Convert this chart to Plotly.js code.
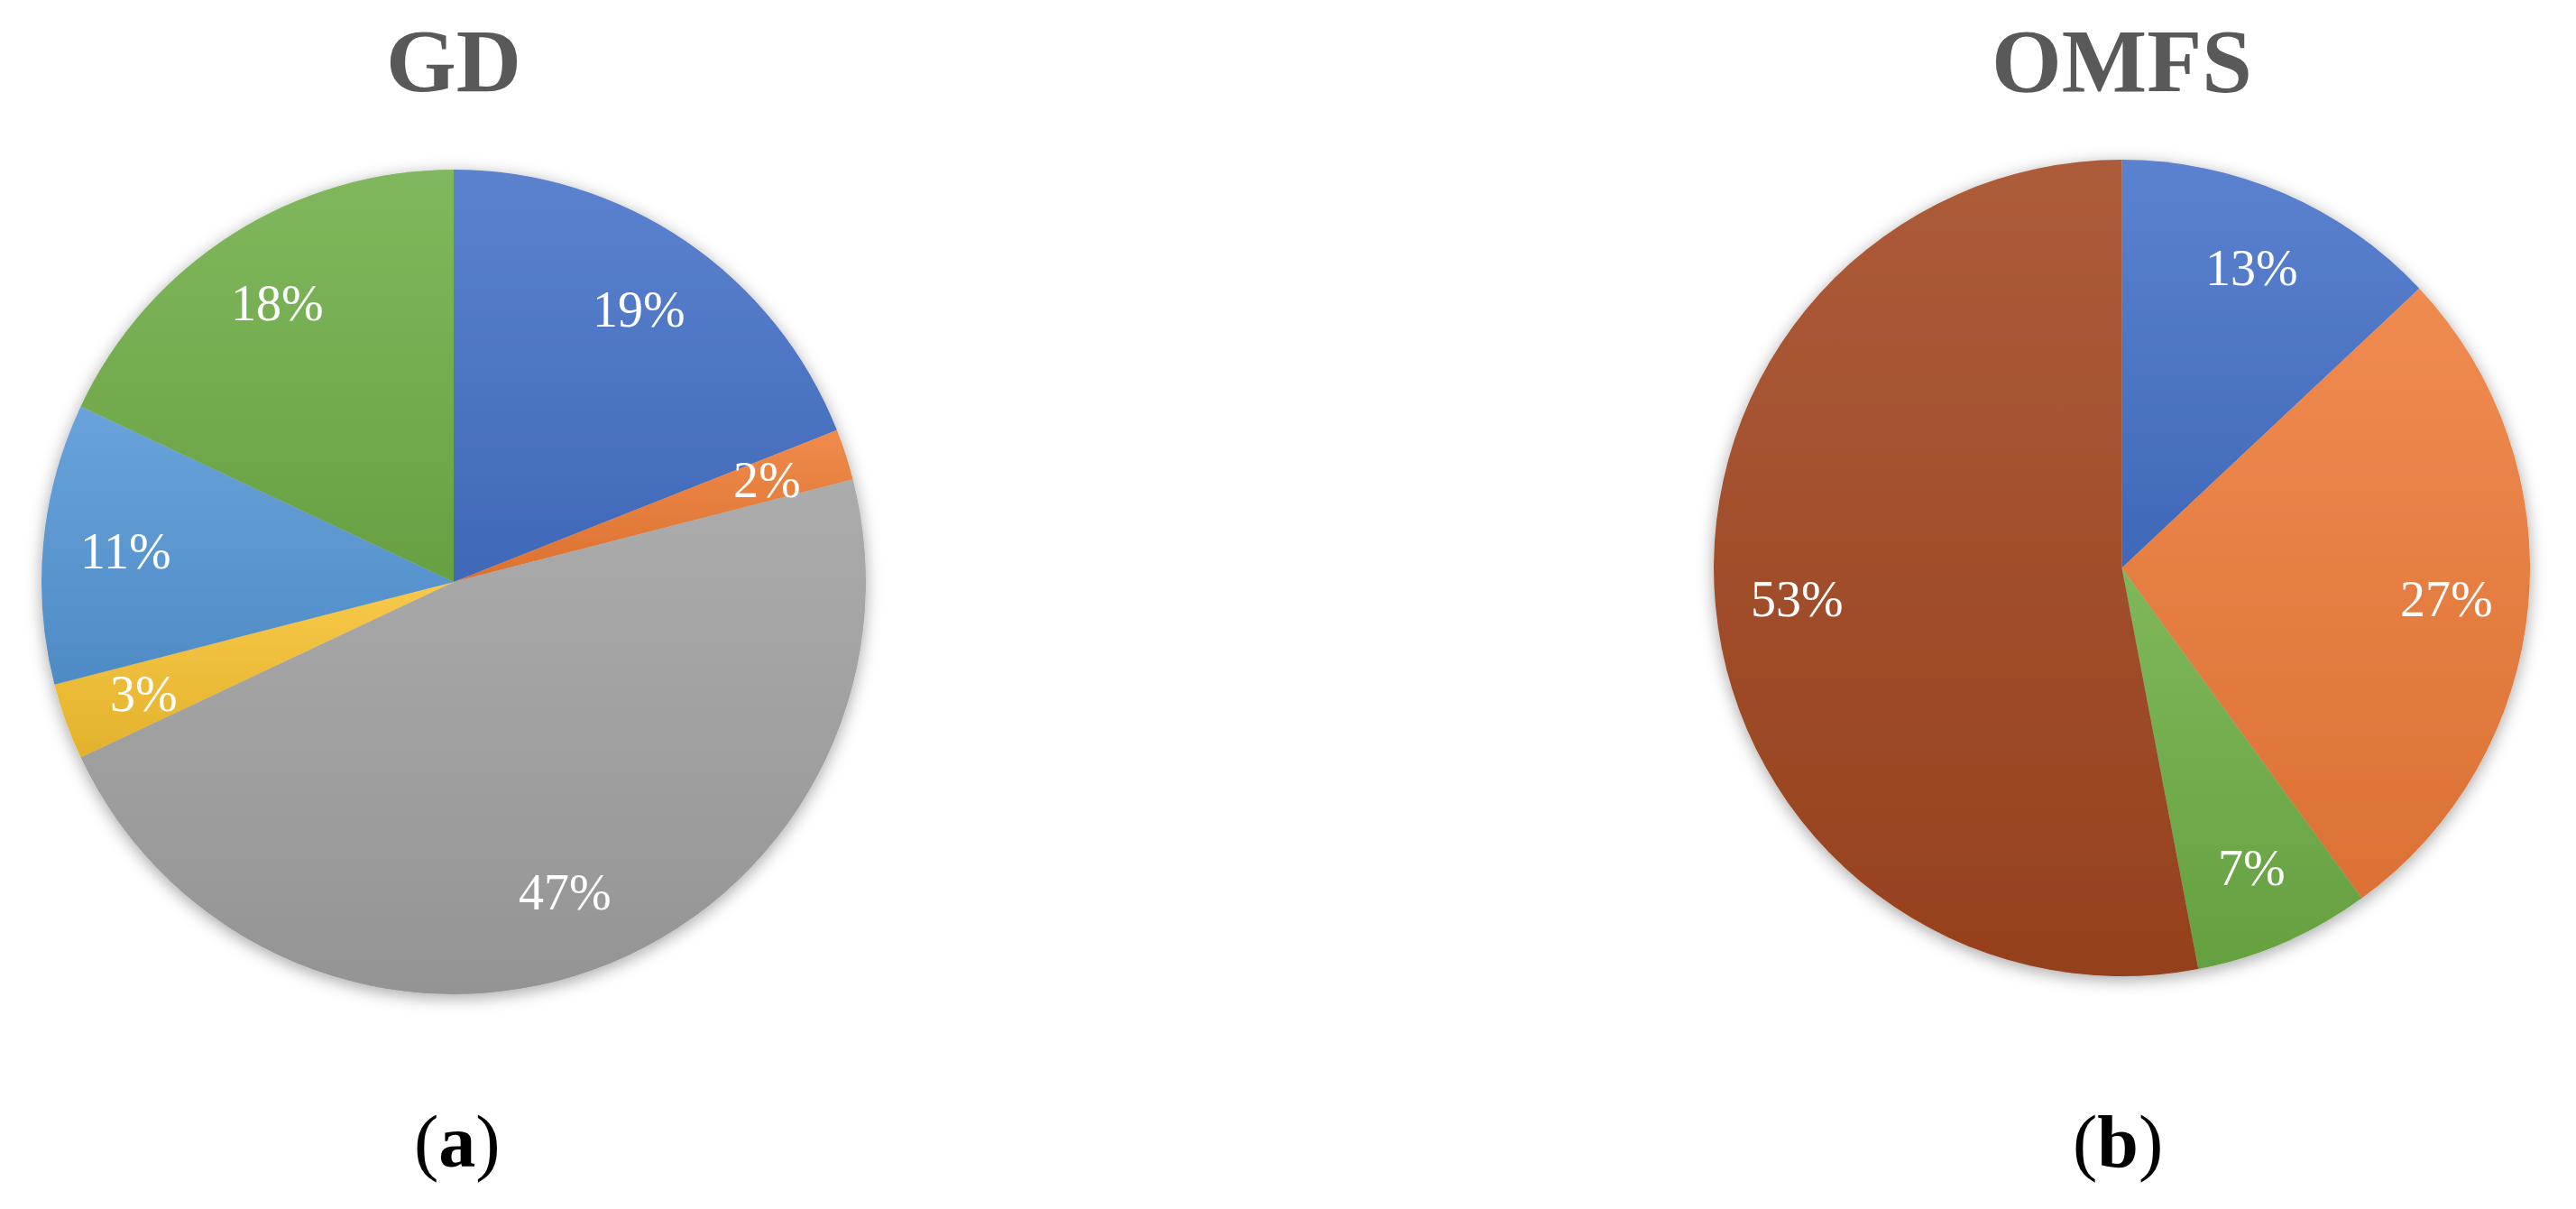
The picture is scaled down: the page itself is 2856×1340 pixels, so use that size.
<!DOCTYPE html>
<html>
<head>
<meta charset="utf-8">
<script src="https://cdn.plot.ly/plotly-3.0.1.min.js"></script>
<style>
  html, body { margin: 0; padding: 0; background: #ffffff; }
  #chart { width: 2856px; height: 1340px; }
</style>
</head>
<body>
<div id="chart"></div>
<script>
// GD distribution (clockwise from 12 o'clock)
const gdValues = [19, 2, 47, 3, 11, 18];
const gdColors = ['#4571C8', '#EE7B33', '#A1A1A1', '#F7C230', '#5597D6', '#70AE48'];

// OMFS distribution (clockwise from 12 o'clock)
const omfsValues = [13, 27, 7, 53];
const omfsColors = ['#4571C8', '#EE7B38', '#6EAE45', '#A2461F'];

const panelTitles = ['GD', 'OMFS'];
const panelLetters = ['a', 'b'];

const W = 2856, H = 1340;
const LABEL_R = 0.8;

// pie boxes in pixels: [left, top, size]
const boxes = [[46, 188, 914], [1900, 177, 905]];

function domainOf(box) {
  const [l, t, s] = box;
  return { x: [l / W, (l + s) / W], y: [1 - (t + s) / H, 1 - t / H] };
}

function pieTrace(values, colors, box) {
  return {
    type: 'pie',
    values: values,
    sort: false,
    direction: 'clockwise',
    rotation: 0,
    textinfo: 'none',
    marker: { colors: colors, line: { width: 0 } },
    domain: domainOf(box),
    hoverinfo: 'percent',
    showlegend: false
  };
}

// percent labels placed on each slice's bisector
function sliceLabels(values, box) {
  const total = values.reduce((a, b) => a + b, 0);
  const cx = box[0] + box[2] / 2, cy = box[1] + box[2] / 2, r = box[2] / 2;
  let cum = 0;
  return values.map(v => {
    const ang = (cum + v / 2) / total * 2 * Math.PI;
    cum += v;
    const x = cx + LABEL_R * r * Math.sin(ang);
    const y = cy - LABEL_R * r * Math.cos(ang);
    return {
      text: Math.round(v / total * 100) + '%',
      x: x / W, y: 1 - y / H, xref: 'paper', yref: 'paper',
      showarrow: false, xanchor: 'center', yanchor: 'middle',
      font: { family: 'Liberation Serif, serif', size: 56, color: '#ffffff' }
    };
  });
}

const annotations = [];
boxes.forEach((b, i) => {
  const cx = (b[0] + b[2] / 2) / W;
  annotations.push({
    text: '<b>' + panelTitles[i] + '</b>', x: cx, y: 1 - 68 / H,
    xref: 'paper', yref: 'paper', showarrow: false, xanchor: 'center', yanchor: 'middle',
    font: { family: 'Liberation Serif, serif', size: 100, color: '#595959' }
  });
});
[507, 2348].forEach((px, i) => {
  annotations.push({
    text: '(<b>' + panelLetters[i] + '</b>)', x: px / W, y: 1 - 1265 / H,
    xref: 'paper', yref: 'paper', showarrow: false, xanchor: 'center', yanchor: 'middle',
    font: { family: 'Liberation Serif, serif', size: 82, color: '#000000' }
  });
});
annotations.push(...sliceLabels(gdValues, boxes[0]), ...sliceLabels(omfsValues, boxes[1]));

const layout = {
  width: W,
  height: H,
  margin: { t: 0, r: 0, b: 0, l: 0 },
  paper_bgcolor: '#ffffff',
  plot_bgcolor: '#ffffff',
  showlegend: false,
  annotations: annotations
};

function shade(hex, amt) {
  const n = parseInt(hex.slice(1), 16);
  const ch = [n >> 16, (n >> 8) & 255, n & 255].map(c => {
    const v = amt >= 0 ? c + (255 - c) * amt : c * (1 + amt);
    return Math.round(Math.max(0, Math.min(255, v)));
  });
  return 'rgb(' + ch.join(',') + ')';
}

// soft vertical gradient on each slice plus a drop shadow under the pies
function addShading(gd, colorSets) {
  const svg = gd.querySelector('svg.main-svg');
  const NS = 'http://www.w3.org/2000/svg';
  const defs = document.createElementNS(NS, 'defs');
  defs.innerHTML = '<filter id="pieShadow" x="-10%" y="-10%" width="120%" height="120%">' +
    '<feDropShadow dx="0" dy="4" stdDeviation="9" flood-color="#000" flood-opacity="0.35"/></filter>';
  colorSets.forEach((cols, t) => {
    cols.forEach((c, k) => {
      const g = document.createElementNS(NS, 'linearGradient');
      g.setAttribute('id', 'sg' + t + '_' + k);
      g.setAttribute('x1', '0'); g.setAttribute('y1', '0');
      g.setAttribute('x2', '0'); g.setAttribute('y2', '1');
      g.innerHTML = '<stop offset="0" stop-color="' + shade(c, 0.12) + '"/>' +
        '<stop offset="1" stop-color="' + shade(c, -0.08) + '"/>';
      defs.appendChild(g);
    });
  });
  svg.insertBefore(defs, svg.firstChild);
  gd.querySelectorAll('.pielayer .trace').forEach((tr, t) => {
    tr.setAttribute('filter', 'url(#pieShadow)');
    tr.querySelectorAll('.slice path.surface').forEach((p, k) => {
      p.style.fill = 'url(#sg' + t + '_' + k + ')';
    });
  });
}

Plotly.newPlot('chart', [
  pieTrace(gdValues, gdColors, boxes[0]),
  pieTrace(omfsValues, omfsColors, boxes[1])
], layout, { displayModeBar: false, staticPlot: true }).then(gd => {
  addShading(gd, [gdColors, omfsColors]);
});
</script>
</body>
</html>
